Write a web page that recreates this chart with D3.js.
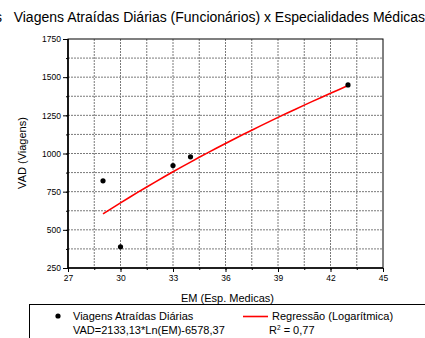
<!DOCTYPE html>
<html>
<head>
<meta charset="utf-8">
<script src="https://cdn.jsdelivr.net/npm/d3@7"></script>
<style>
  body { margin: 0; background: #fff; }
  svg { font-family: "Liberation Sans", Arial, sans-serif; }
</style>
</head>
<body>
<svg id="chart" width="425" height="338"></svg>
<script>
// data
const emValues = [29, 30, 33, 34, 43];
const vadValues = [821, 389, 921, 978, 1449];
const xTicks = [27, 30, 33, 36, 39, 42, 45];
const yTicks = [250, 500, 750, 1000, 1250, 1500, 1750];
const coefA = 2133.13, coefB = -6578.37; // VAD = a*ln(EM)+b
const fitRange = [29, 43];

const svg = d3.select('#chart');
const margin = { top: 39, right: 42, bottom: 70, left: 68 };
const width = 425 - margin.left - margin.right;
const height = 338 - margin.top - margin.bottom;

const x = d3.scaleLinear().domain([27, 45]).range([0, width]);
const y = d3.scaleLinear().domain([250, 1750]).range([height, 0]);

const g = svg.append('g')
  .attr('transform', 'translate(' + margin.left + ',' + margin.top + ')');

// grid
const gridX = d3.range(28.5, 45, 1.5);
const gridY = d3.range(375, 1750, 125);
g.selectAll('.gx').data(gridX).enter().append('line')
  .attr('x1', d => x(d)).attr('x2', d => x(d))
  .attr('y1', 0).attr('y2', height)
  .attr('stroke', '#7a7a7a').attr('stroke-dasharray', '2,1');
g.selectAll('.gy').data(gridY).enter().append('line')
  .attr('x1', 0).attr('x2', width)
  .attr('y1', d => y(d)).attr('y2', d => y(d))
  .attr('stroke', '#7a7a7a').attr('stroke-dasharray', '2,1');

// axes
g.append('g')
  .attr('transform', 'translate(0,' + height + ')')
  .call(d3.axisBottom(x).tickValues(xTicks).tickSize(4).tickPadding(3).tickFormat(d3.format('d')));
g.append('g')
  .attr('transform', 'translate(0,' + height + ')')
  .call(d3.axisBottom(x).tickValues(gridX).tickSize(2).tickFormat(''));
g.append('g')
  .call(d3.axisLeft(y).tickValues(yTicks).tickSize(5).tickPadding(2).tickFormat(d3.format('d')));
g.append('g')
  .call(d3.axisLeft(y).tickValues(gridY).tickSize(2).tickFormat(''));

g.selectAll('.domain').remove();
g.selectAll('.tick text').attr('font-size', 8.5).attr('fill', '#000')
  .attr('font-family', '"Liberation Sans", Arial, sans-serif');
g.selectAll('.tick line').attr('stroke', '#000');

// frame
g.append('rect').attr('width', width).attr('height', height)
  .attr('fill', 'none').attr('stroke', '#000').attr('stroke-width', 1);
g.append('line').attr('x1', 0).attr('x2', 0).attr('y1', 0).attr('y2', height)
  .attr('stroke', '#000').attr('stroke-width', 1.6);
g.append('line').attr('x1', 0).attr('x2', width).attr('y1', height).attr('y2', height)
  .attr('stroke', '#000').attr('stroke-width', 1.6);

// regression curve from the displayed equation
const fitX = d3.range(fitRange[0], fitRange[1] + 0.001, 0.5);
const line = d3.line().x(d => x(d)).y(d => y(coefA * Math.log(d) + coefB));
g.append('path').datum(fitX).attr('d', line)
  .attr('fill', 'none').attr('stroke', '#ff0000').attr('stroke-width', 1.6);

// points
g.selectAll('.pt').data(emValues).enter().append('circle')
  .attr('cx', d => x(d)).attr('cy', (d, i) => y(vadValues[i]))
  .attr('r', 2.6).attr('fill', '#000');

// titles
svg.append('text').attr('x', -5).attr('y', 22).attr('font-size', 14)
  .attr('xml:space', 'preserve')
  .text('s   Viagens Atraídas Diárias (Funcionários) x Especialidades Médicas');
svg.append('text').attr('x', margin.left + width / 2 + 2).attr('y', 302)
  .attr('text-anchor', 'middle').attr('font-size', 11).text('EM (Esp. Medicas)');
svg.append('text')
  .attr('transform', 'translate(26,153) rotate(-90)')
  .attr('text-anchor', 'middle').attr('font-size', 11).text('VAD (Viagens)');

// legend
const leg = svg.append('g');
leg.append('rect').attr('x', 29.5).attr('y', 304.5).attr('width', 420).attr('height', 60)
  .attr('fill', 'none').attr('stroke', '#000');
leg.append('circle').attr('cx', 58).attr('cy', 316).attr('r', 2.6).attr('fill', '#000');
leg.append('text').attr('x', 73).attr('y', 320).attr('font-size', 11).text('Viagens Atraídas Diárias');
leg.append('text').attr('x', 73).attr('y', 334).attr('font-size', 11).text('VAD=2133,13*Ln(EM)-6578,37');
leg.append('line').attr('x1', 243).attr('x2', 268).attr('y1', 316.5).attr('y2', 316.5)
  .attr('stroke', '#ff0000').attr('stroke-width', 1.6);
leg.append('text').attr('x', 272).attr('y', 320).attr('font-size', 11).text('Regressão (Logarítmica)');
const r2 = leg.append('text').attr('x', 269).attr('y', 334).attr('font-size', 11);
r2.append('tspan').text('R');
r2.append('tspan').attr('dy', -4).attr('font-size', 6.5).text('2');
r2.append('tspan').attr('dy', 4).text(' = 0,77');
</script>
</body>
</html>
